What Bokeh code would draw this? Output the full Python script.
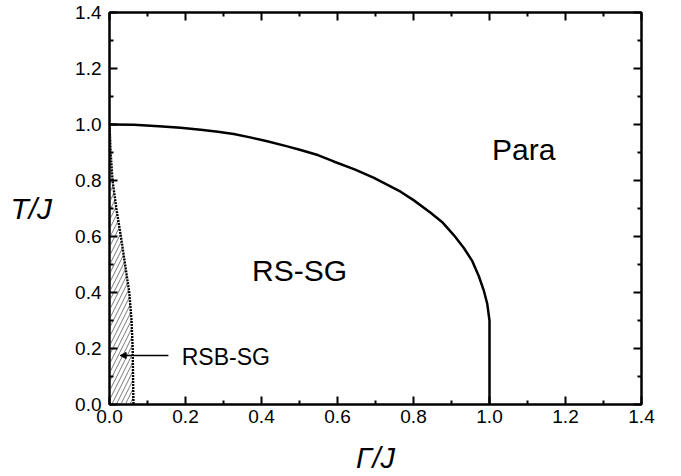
from bokeh.plotting import figure
from bokeh.models import (FixedTicker, LinearAxis, Label, Arrow, NormalHead,
                          CustomJSTickFormatter, PrintfTickFormatter, Range1d)
from bokeh.embed import file_html
from bokeh.resources import INLINE

# --- data ---------------------------------------------------------------
# RS spin glass / paramagnet boundary
gamma_c = [0.0, 0.064, 0.13, 0.187, 0.24, 0.285, 0.327, 0.37, 0.415, 0.468, 0.503, 0.55,
           0.59, 0.645, 0.696, 0.766, 0.801, 0.845, 0.875, 0.906, 0.932, 0.954, 0.972,
           0.985, 0.994, 1.0, 1.0]
T_c     = [1.0, 0.999, 0.994, 0.988, 0.981, 0.974, 0.966, 0.954, 0.94, 0.922, 0.909, 0.89,
           0.868, 0.84, 0.809, 0.76, 0.729, 0.685, 0.652, 0.605, 0.56, 0.514, 0.458,
           0.407, 0.36, 0.30, 0.0]

# RSB (AT) line
T_at     = [1.0, 0.9, 0.8, 0.7, 0.6, 0.5, 0.4, 0.3, 0.2, 0.1, 0.0]
gamma_at = [0.0, 0.003, 0.008, 0.018, 0.03, 0.041, 0.052, 0.058, 0.061, 0.062, 0.063]

ticks = [0.0, 0.2, 0.4, 0.6, 0.8, 1.0, 1.2, 1.4]
minor = [0.1, 0.3, 0.5, 0.7, 0.9, 1.1, 1.3]

region_names = ["Para", "RS-SG"]
region_gamma = [1.09, 0.50]
region_T     = [0.91, 0.48]

rsb_name = "RSB-SG"
rsb_gamma = 0.19
rsb_T = 0.168
arrow_gamma = [0.155, 0.028]
arrow_T = 0.175

x_title = "Γ/J"
y_title = "T/J"

FONT = "Liberation Sans"

p = figure(width=681, height=476, output_backend="svg", toolbar_location=None,
           x_range=Range1d(0, 1.4), y_range=Range1d(0, 1.4),
           min_border_left=109, min_border_right=40, min_border_top=12,
           min_border_bottom=72, x_axis_location=None, y_axis_location=None)
p.grid.visible = False
p.outline_line_color = "black"
p.outline_line_width = 2
p.background_fill_color = "white"
p.border_fill_color = "white"

def style_axis(ax, labels=True):
    ax.ticker = FixedTicker(ticks=ticks, minor_ticks=minor)
    ax.axis_line_width = 2
    ax.major_tick_line_width = 2
    ax.minor_tick_line_width = 2
    ax.major_tick_in = 8
    ax.major_tick_out = 0
    ax.minor_tick_in = 4
    ax.minor_tick_out = 0
    ax.major_label_text_font = FONT
    ax.major_label_text_font_size = "19px"
    ax.major_label_text_color = "black"
    if labels:
        ax.formatter = PrintfTickFormatter(format="%.1f")
    else:
        ax.formatter = CustomJSTickFormatter(code="return ''")
        ax.major_label_text_font_size = "1px"
        ax.major_label_standoff = 0

bx = LinearAxis(); style_axis(bx); bx.major_label_standoff = 5
bx.axis_label = x_title
bx.axis_label_text_font = FONT
bx.axis_label_text_font_style = "italic"
bx.axis_label_text_font_size = "29px"
bx.axis_label_text_color = "black"
bx.axis_label_standoff = 16

lx = LinearAxis(); style_axis(lx); lx.major_label_standoff = 8
lx.axis_label = y_title
lx.axis_label_orientation = "horizontal"
lx.axis_label_text_font = FONT
lx.axis_label_text_font_style = "italic"
lx.axis_label_text_font_size = "30px"
lx.axis_label_text_color = "black"
lx.axis_label_standoff = 20

tx = LinearAxis(); style_axis(tx, False)
rx = LinearAxis(); style_axis(rx, False)
p.add_layout(bx, "below")
p.add_layout(lx, "left")
p.add_layout(tx, "above")
p.add_layout(rx, "right")

# hatched RSB region
p.harea(x1=[0.0] * len(T_at), x2=gamma_at, y=T_at, fill_color=None,
        hatch_pattern="/", hatch_color="#555555", hatch_scale=9, hatch_weight=0.8)
# AT line
p.line(gamma_at, T_at, line_color="black", line_width=2.4, line_dash="2 1")
# boundary
p.line(gamma_c, T_c, line_color="black", line_width=2.5, line_join="round")

for name, gx, ty in zip(region_names, region_gamma, region_T):
    p.add_layout(Label(x=gx, y=ty, text=name, text_align="center", text_baseline="middle",
                       text_font=FONT, text_font_size="30px", text_color="black"))

p.add_layout(Label(x=rsb_gamma, y=rsb_T, text=rsb_name, text_align="left",
                   text_baseline="middle", text_font=FONT, text_font_size="23px",
                   text_color="black"))
p.add_layout(Arrow(end=NormalHead(size=6, fill_color="black", line_color="black"),
                   x_start=arrow_gamma[0], y_start=arrow_T,
                   x_end=arrow_gamma[1], y_end=arrow_T, line_width=1.5))

open("out.html", "w").write(file_html(p, INLINE))
